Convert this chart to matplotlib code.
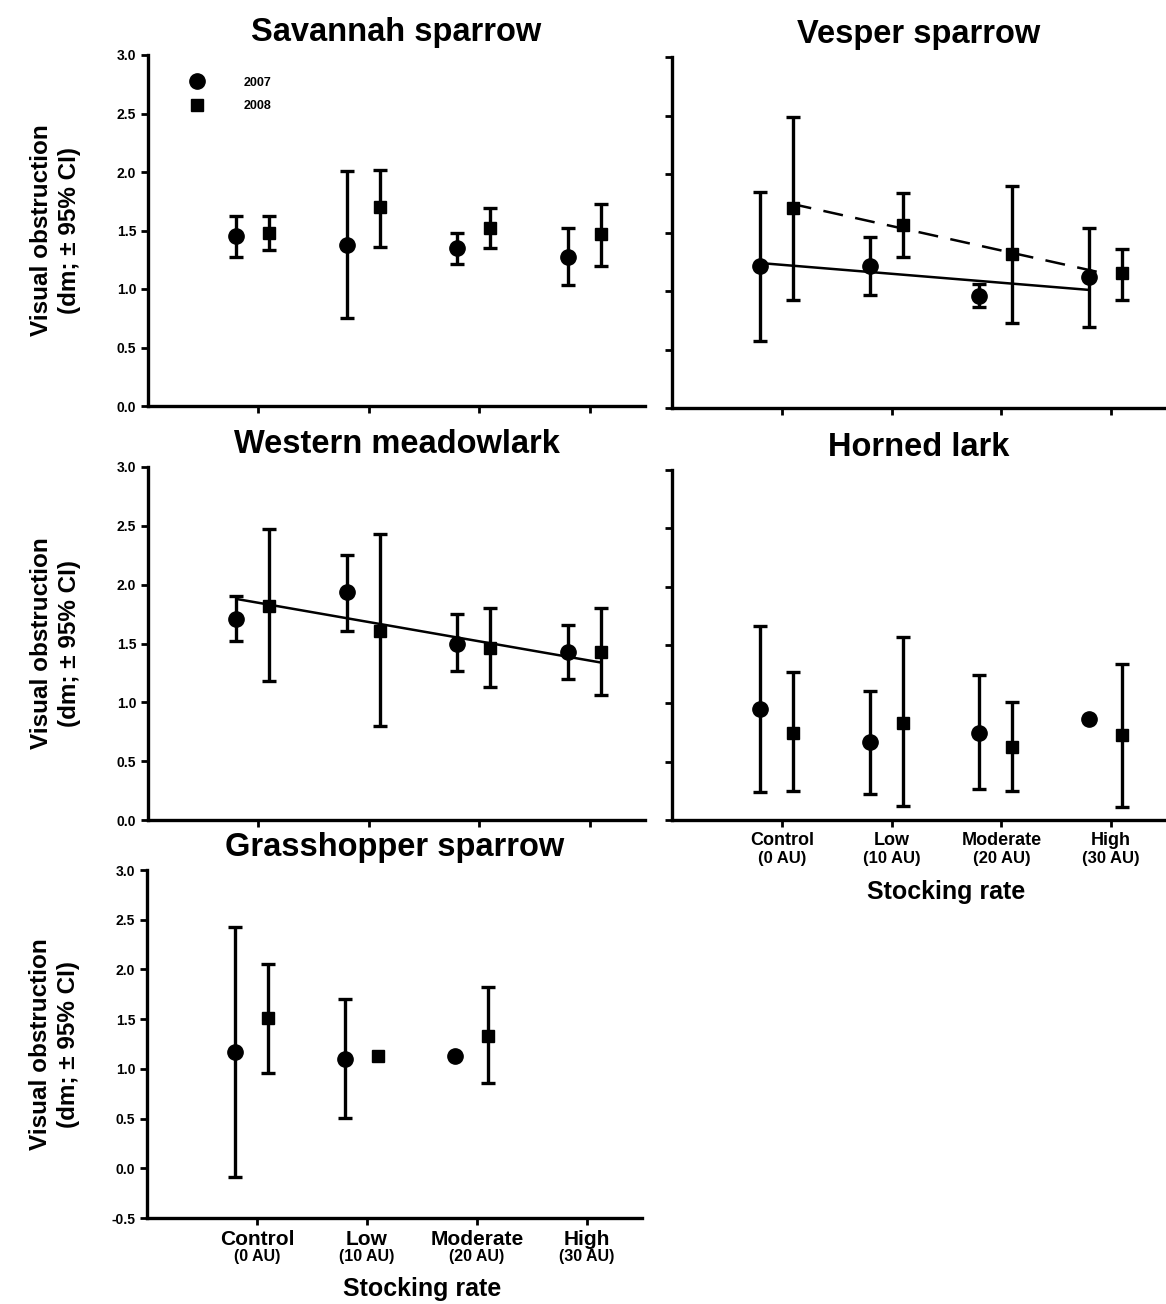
import numpy as np
import matplotlib
matplotlib.use('Agg')
import matplotlib.pyplot as plt
from matplotlib import transforms

plt.rcParams['font.family'] = ['Liberation Sans', 'DejaVu Sans']

nan = np.nan

rates = ['Control', 'Low', 'Moderate', 'High']
rate_units = ['(0 AU)', '(10 AU)', '(20 AU)', '(30 AU)']
years = ['2007', '2008']

# Savannah sparrow
sav_07 = [1.45, 1.38, 1.35, 1.27]
sav_07_lo = [1.27, 0.755, 1.21, 1.03]
sav_07_hi = [1.62, 2.01, 1.48, 1.52]
sav_08 = [1.48, 1.70, 1.52, 1.47]
sav_08_lo = [1.33, 1.36, 1.35, 1.20]
sav_08_hi = [1.62, 2.02, 1.69, 1.73]

# Vesper sparrow
ves_07 = [1.21, 1.21, 0.96, 1.12]
ves_07_lo = [0.57, 0.97, 0.86, 0.69]
ves_07_hi = [1.85, 1.46, 1.06, 1.54]
ves_08 = [1.71, 1.56, 1.32, 1.15]
ves_08_lo = [0.92, 1.29, 0.73, 0.92]
ves_08_hi = [2.49, 1.84, 1.90, 1.36]
ves_fit_07 = [1.24, 1.01]   # start / end of 2007 trend
ves_fit_08 = [1.745, 1.15]  # start / end of 2008 trend

# Western meadowlark
wes_07 = [1.71, 1.94, 1.50, 1.43]
wes_07_lo = [1.52, 1.61, 1.265, 1.20]
wes_07_hi = [1.905, 2.25, 1.75, 1.66]
wes_08 = [1.82, 1.61, 1.46, 1.43]
wes_08_lo = [1.18, 0.80, 1.13, 1.06]
wes_08_hi = [2.47, 2.43, 1.80, 1.80]
wes_fit = [1.877, 1.34]

# Horned lark
hor_07 = [0.95, 0.67, 0.75, 0.87]
hor_07_lo = [0.24, 0.225, 0.265, nan]
hor_07_hi = [1.66, 1.11, 1.24, nan]
hor_08 = [0.75, 0.835, 0.63, 0.73]
hor_08_lo = [0.245, 0.12, 0.245, 0.115]
hor_08_hi = [1.27, 1.57, 1.01, 1.34]

# Grasshopper sparrow
gra_07 = [1.17, 1.10, 1.13, nan]
gra_07_lo = [-0.09, 0.51, nan, nan]
gra_07_hi = [2.43, 1.70, nan, nan]
gra_08 = [1.51, 1.13, 1.33, nan]
gra_08_lo = [0.96, nan, 0.86, nan]
gra_08_hi = [2.05, nan, 1.82, nan]

W, H = 1166, 1304
fig = plt.figure(figsize=(W / 100, H / 100), dpi=100)


def rect(l, t, r, b):
    return [l / W, 1 - b / H, (r - l) / W, (b - t) / H]


xc = np.arange(1, 5)
x07 = xc - 0.2
x08 = xc + 0.1


def draw_year(ax, x, v, lo, hi, marker, ms):
    v = np.array(v, float)
    lo = np.array(lo, float)
    hi = np.array(hi, float)
    yerr = np.vstack([v - lo, hi - v])
    ax.errorbar(x, v, yerr=yerr, fmt='none', ecolor='black', elinewidth=2.4,
                capsize=5, capthick=2.4, zorder=2)
    return ax.plot(x, v, linestyle='none', marker=marker, ms=ms, color='black', zorder=3)[0]


def panel(box, title, d07, d08, ymin=0.0, ylabels=True, xlabels=None):
    ax = fig.add_axes(rect(*box))
    h1 = draw_year(ax, x07, *d07, 'o', 11)
    h2 = draw_year(ax, x08, *d08, 's', 9)
    ax.set_xlim(0, 4.5)
    ax.set_ylim(ymin, 3.0)
    ax.spines['top'].set_visible(False)
    ax.spines['right'].set_visible(False)
    ax.spines['left'].set_linewidth(2.4)
    ax.spines['bottom'].set_linewidth(2.4)
    ax.set_xticks(xc)
    ax.set_xticklabels([])
    ax.set_yticks(np.arange(ymin, 3.01, 0.5))
    if ylabels:
        ax.set_yticklabels(['%.1f' % t for t in np.arange(ymin, 3.01, 0.5)],
                           fontweight='bold')
        ax.set_ylabel('Visual obstruction\n(dm; \u00b1 95% CI)', fontsize=17.5,
                      fontweight='bold', linespacing=1.3)
        ax.yaxis.set_label_coords(-0.135, 0.5)
    else:
        ax.set_yticklabels([])
    ax.tick_params(direction='out', length=5, width=2, labelsize=10)
    ax.set_title(title, fontsize=23.5, fontweight='bold', pad=10)
    if xlabels:
        rs, us, ss = xlabels
        tr = transforms.blended_transform_factory(ax.transData, ax.transAxes)
        for x, r, u in zip(xc, rates, rate_units):
            ax.text(x, -0.035, r, transform=tr, ha='center', va='top',
                    fontsize=rs, fontweight='bold')
            ax.text(x, -0.088, u, transform=tr, ha='center', va='top',
                    fontsize=us, fontweight='semibold')
        ax.text(2.5, -0.17, 'Stocking rate', transform=tr, ha='center', va='top',
                fontsize=ss, fontweight='bold')
    return ax, h1, h2


ax, h1, h2 = panel((148, 55, 645, 406), 'Savannah sparrow',
                   (sav_07, sav_07_lo, sav_07_hi), (sav_08, sav_08_lo, sav_08_hi))
ax.legend([h1, h2], years, loc='upper left', bbox_to_anchor=(0.05, 0.97),
          frameon=False, handletextpad=2.8, labelspacing=0.9,
          prop={'weight': 'bold', 'size': 9})

ax, h1, h2 = panel((672, 57, 1166, 408), 'Vesper sparrow',
                   (ves_07, ves_07_lo, ves_07_hi), (ves_08, ves_08_lo, ves_08_hi),
                   ylabels=False)
ax.plot([0.79, 3.79], ves_fit_07, color='black', lw=1.8, zorder=1)
ax.plot([1.09, 3.94], ves_fit_08, color='black', lw=1.8, ls=(0, (8, 5)), zorder=1)

ax, h1, h2 = panel((148, 467, 645, 820), 'Western meadowlark',
                   (wes_07, wes_07_lo, wes_07_hi), (wes_08, wes_08_lo, wes_08_hi))
ax.plot([0.81, 4.09], wes_fit, color='black', lw=1.8, zorder=1)

panel((672, 470, 1166, 820), 'Horned lark',
      (hor_07, hor_07_lo, hor_07_hi), (hor_08, hor_08_lo, hor_08_hi),
      ylabels=False, xlabels=(13, 12, 18))

panel((147, 870, 642, 1218), 'Grasshopper sparrow',
      (gra_07, gra_07_lo, gra_07_hi), (gra_08, gra_08_lo, gra_08_hi),
      ymin=-0.5, xlabels=(15, 11.5, 18))

fig.savefig('out.png', dpi=100)
